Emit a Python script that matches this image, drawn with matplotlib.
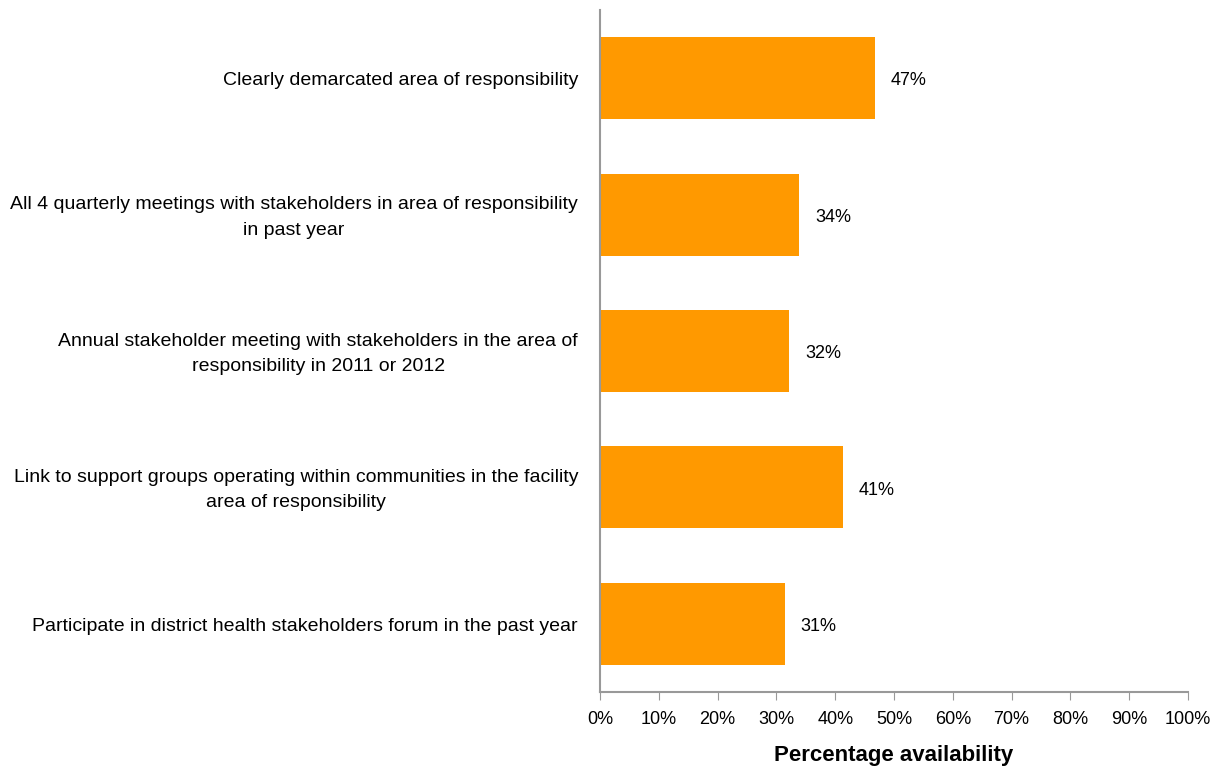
import matplotlib
matplotlib.use("Agg")
import matplotlib.pyplot as plt
from matplotlib import font_manager

# Dados do gráfico
categorias = [
    "Clearly demarcated area of responsibility",
    "All 4 quarterly meetings with stakeholders in area of responsibility\nin past year",
    "Annual stakeholder meeting with stakeholders in the area of\nresponsibility in 2011 or 2012",
    "Link to support groups operating within communities in the facility\narea of responsibility",
    "Participate in district health stakeholders forum in the past year",
]
valores = [46.8, 33.9, 32.2, 41.3, 31.4]
rotulos = ["47%", "34%", "32%", "41%", "31%"]
ticks_x = list(range(0, 101, 10))

# Fonte estreita, se existir
nomes = {f.name for f in font_manager.fontManager.ttflist}
familia = "Liberation Sans Narrow" if "Liberation Sans Narrow" in nomes else "Liberation Sans"
plt.rcParams["font.family"] = [familia, "DejaVu Sans"]

fig = plt.figure(figsize=(12.15, 7.69), dpi=100)
ax = fig.add_axes([600 / 1215, 1 - 692 / 769, 588 / 1215, (692 - 10) / 769])

cor = "#FF9900"
pos = list(range(len(categorias)))
ax.barh(pos, valores, height=0.6, color=cor)

for p, v, r in zip(pos, valores, rotulos):
    ax.text(v + 2.7, p + 0.02, r, va="center", ha="left", fontsize=13)

ax.set_ylim(len(categorias) - 0.5, -0.5)
ax.set_xlim(0, 100)
ax.set_yticks([])

# Rótulos das categorias: alinhados à direita, linhas centradas
trans = ax.get_yaxis_transform()
for p, c in zip(pos, categorias):
    ax.text(-22 / 588, p + 0.02, c, transform=trans, ha="right", va="center",
            multialignment="center", fontsize=14, linespacing=1.65)

ax.set_xticks(ticks_x)
ax.set_xticklabels([f"{t}%" for t in ticks_x], fontsize=13)
ax.tick_params(axis="x", direction="out", length=6, color="#999999", pad=8)

for s in ["top", "right"]:
    ax.spines[s].set_visible(False)
for s in ["left", "bottom"]:
    ax.spines[s].set_color("#999999")
    ax.spines[s].set_linewidth(1.5)

ax.set_xlabel("Percentage availability", fontsize=16, fontweight="bold", labelpad=12)

fig.savefig("out.png", dpi=100)
